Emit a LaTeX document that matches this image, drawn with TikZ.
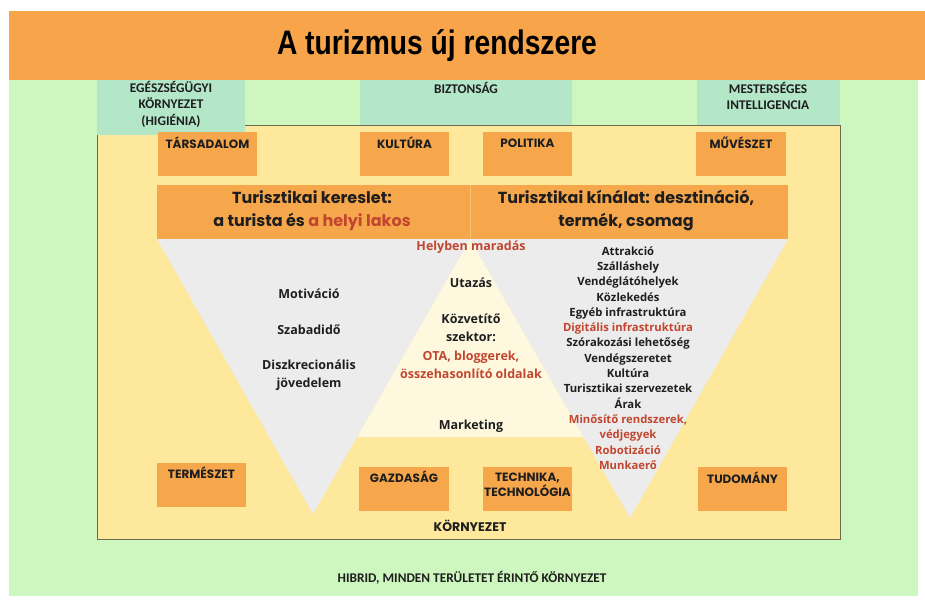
\documentclass[tikz,border=0pt]{standalone}
\usepackage{fontspec}
\usepackage{graphicx}
\setmainfont{Open Sans}
\newfontfamily\popfont{Poppins}
\newfontfamily\carlfont{Carlito}
\newfontfamily\arialfont{Liberation Sans}
\definecolor{bggreen}{HTML}{CDF7BE}
\definecolor{titleorange}{HTML}{F7A44A}
\definecolor{tealbox}{HTML}{B4E6C8}
\definecolor{yellowbg}{HTML}{FDE89C}
\definecolor{boxorange}{HTML}{F6A64B}
\definecolor{grayfill}{HTML}{ECECEC}
\definecolor{creamfill}{HTML}{FEF9DE}
\definecolor{redtext}{HTML}{C2452F}
\definecolor{darktext}{HTML}{1E1E1E}
\definecolor{frameline}{HTML}{6E6A4E}
\begin{document}
\begin{tikzpicture}[x=1pt,y=-1pt,
  areabox/.style={inner sep=0pt, outer sep=0pt, anchor=north west},
  obox/.style={areabox, fill=boxorange},
  tbox/.style={areabox, fill=tealbox},
  olab/.style={inner sep=0pt, text=darktext, align=center, font=\popfont\bfseries\fontsize{12}{15}\selectfont},
  tlab/.style={inner sep=0pt, text=darktext, align=center, font=\carlfont\bfseries\fontsize{13.3}{16.5}\selectfont},
  bandlab/.style={inner sep=0pt, text=darktext, align=center, font=\popfont\bfseries\fontsize{16}{23}\selectfont},
  trilab/.style={inner sep=0pt, text=darktext, align=center, font=\bfseries\fontsize{12.5}{18}\selectfont},
  listlab/.style={inner sep=0pt, text=darktext, align=center, font=\bfseries\fontsize{11.3}{15.3}\selectfont}
]
\useasboundingbox (0,0) rectangle (925,603);
\fill[white] (0,0) rectangle (925,603);
% backgrounds
\node[areabox, fill=bggreen, minimum width=909pt, minimum height=516pt] (bg) at (9,80) {};
\node[areabox, fill=titleorange, minimum width=916pt, minimum height=69pt] (titlebar) at (9,11) {};
\node[inner sep=0pt, text=black, font=\arialfont\bfseries\fontsize{34}{34}\selectfont] (title) at (437,46) {\scalebox{0.83}[1]{A turizmus új rendszere}};
% environment frame
\node[areabox, fill=yellowbg, draw=frameline, line width=0.9pt, minimum width=743pt, minimum height=414pt] (env) at (97,125) {};
% teal boxes
\node[tbox, minimum width=148pt, minimum height=55pt] (egesz) at (97,80) {};
\node[tbox, minimum width=212pt, minimum height=45pt] (bizt) at (360,80) {};
\node[tbox, minimum width=143pt, minimum height=45pt] (mi) at (697,80) {};
\node[tlab] (egeszlab) at (171,104) {EGÉSZSÉGÜGYI\\KÖRNYEZET\\(HIGIÉNIA)};
\node[tlab] (biztlab) at (466,88) {BIZTONSÁG};
\node[tlab] (milab) at (768,96) {MESTERSÉGES\\INTELLIGENCIA};
% top orange boxes
\node[obox, minimum width=99pt, minimum height=44pt] (tars) at (158,132) {};
\node[obox, minimum width=89pt, minimum height=44pt] (kult) at (360,132) {};
\node[obox, minimum width=89pt, minimum height=44pt] (pol) at (483,132) {};
\node[obox, minimum width=90pt, minimum height=44pt] (muv) at (696,132) {};
\node[olab] (tarslab) at (207.5,143) {TÁRSADALOM};
\node[olab] (kultlab) at (404.5,143) {KULTÚRA};
\node[olab] (pollab) at (527.5,143) {POLITIKA};
\node[olab] (muvlab) at (741,143) {MŰVÉSZET};
% band
\node[obox, minimum width=313pt, minimum height=54pt] (kereslet) at (157,185) {};
\node[obox, minimum width=318pt, minimum height=54pt] (kinalat) at (470,185) {};
\draw[color=titleorange!55!yellowbg, line width=1pt] (kereslet.north east) -- (kereslet.south east);
\node[bandlab] (kereslab) at (312,210.5) {Turisztikai kereslet:\\a turista és \textcolor{redtext}{a helyi lakos}};
\node[bandlab] (kinallab) at (626,210.5) {Turisztikai kínálat: desztináció,\\termék, csomag};
% triangles
\coordinate (ltl) at (157,239);
\coordinate (mid) at (470,239);
\coordinate (rtr) at (788,239);
\coordinate (lap) at (313,514);
\coordinate (rap) at (630,518);
\coordinate (cbl) at (357,437);
\coordinate (cbr) at (583.5,437);
\fill[creamfill] (mid) -- (cbl) -- (cbr) -- cycle;
\fill[grayfill] (ltl) -- (mid) -- (lap) -- cycle;
\fill[grayfill] (mid) -- (rtr) -- (rap) -- cycle;
% left triangle texts
\node[trilab] (motiv) at (309,294) {Motiváció};
\node[trilab] (szabad) at (309,330) {Szabadidő};
\node[trilab] (diszk) at (309,375) {Diszkrecionális\\jövedelem};
% middle texts
\node[trilab, text=redtext] (helyben) at (471,247) {Helyben maradás};
\node[trilab] (utazas) at (471,283) {Utazás};
\node[trilab] (kozv) at (471,328) {Közvetítő\\szektor:};
\node[trilab, text=redtext] (ota) at (471,364.5) {OTA, bloggerek,\\összehasonlító oldalak};
\node[trilab] (mark) at (471,426) {Marketing};
% right list
\node[listlab] (lista) at (628,358) {Attrakció\\Szálláshely\\Vendéglátóhelyek\\Közlekedés\\Egyéb infrastruktúra\\\textcolor{redtext}{Digitális infrastruktúra}\\Szórakozási lehetőség\\Vendégszeretet\\Kultúra\\Turisztikai szervezetek\\Árak\\\textcolor{redtext}{Minősítő rendszerek,}\\\textcolor{redtext}{védjegyek}\\\textcolor{redtext}{Robotizáció}\\\textcolor{redtext}{Munkaerő}};
% bottom boxes
\node[obox, minimum width=89pt, minimum height=44pt] (term) at (157,463) {};
\node[obox, minimum width=90pt, minimum height=44pt] (gazd) at (359,467) {};
\node[obox, minimum width=89pt, minimum height=44pt] (tech) at (483,467) {};
\node[obox, minimum width=89pt, minimum height=44pt] (tud) at (698,467) {};
\node[olab] (termlab) at (201.5,473) {TERMÉSZET};
\node[olab] (gazdlab) at (404,477) {GAZDASÁG};
\node[olab] (techlab) at (527.5,484.5) {TECHNIKA,\\TECHNOLÓGIA};
\node[olab] (tudlab) at (742.5,478) {TUDOMÁNY};
\node[olab, font=\popfont\bfseries\fontsize{12.5}{15}\selectfont] (korny) at (470,526) {KÖRNYEZET};
% bottom caption
\node[inner sep=0pt, text=darktext, font=\carlfont\bfseries\fontsize{13.3}{16}\selectfont] (hibrid) at (472,578) {HIBRID, MINDEN TERÜLETET ÉRINTŐ KÖRNYEZET};
\end{tikzpicture}
\end{document}
